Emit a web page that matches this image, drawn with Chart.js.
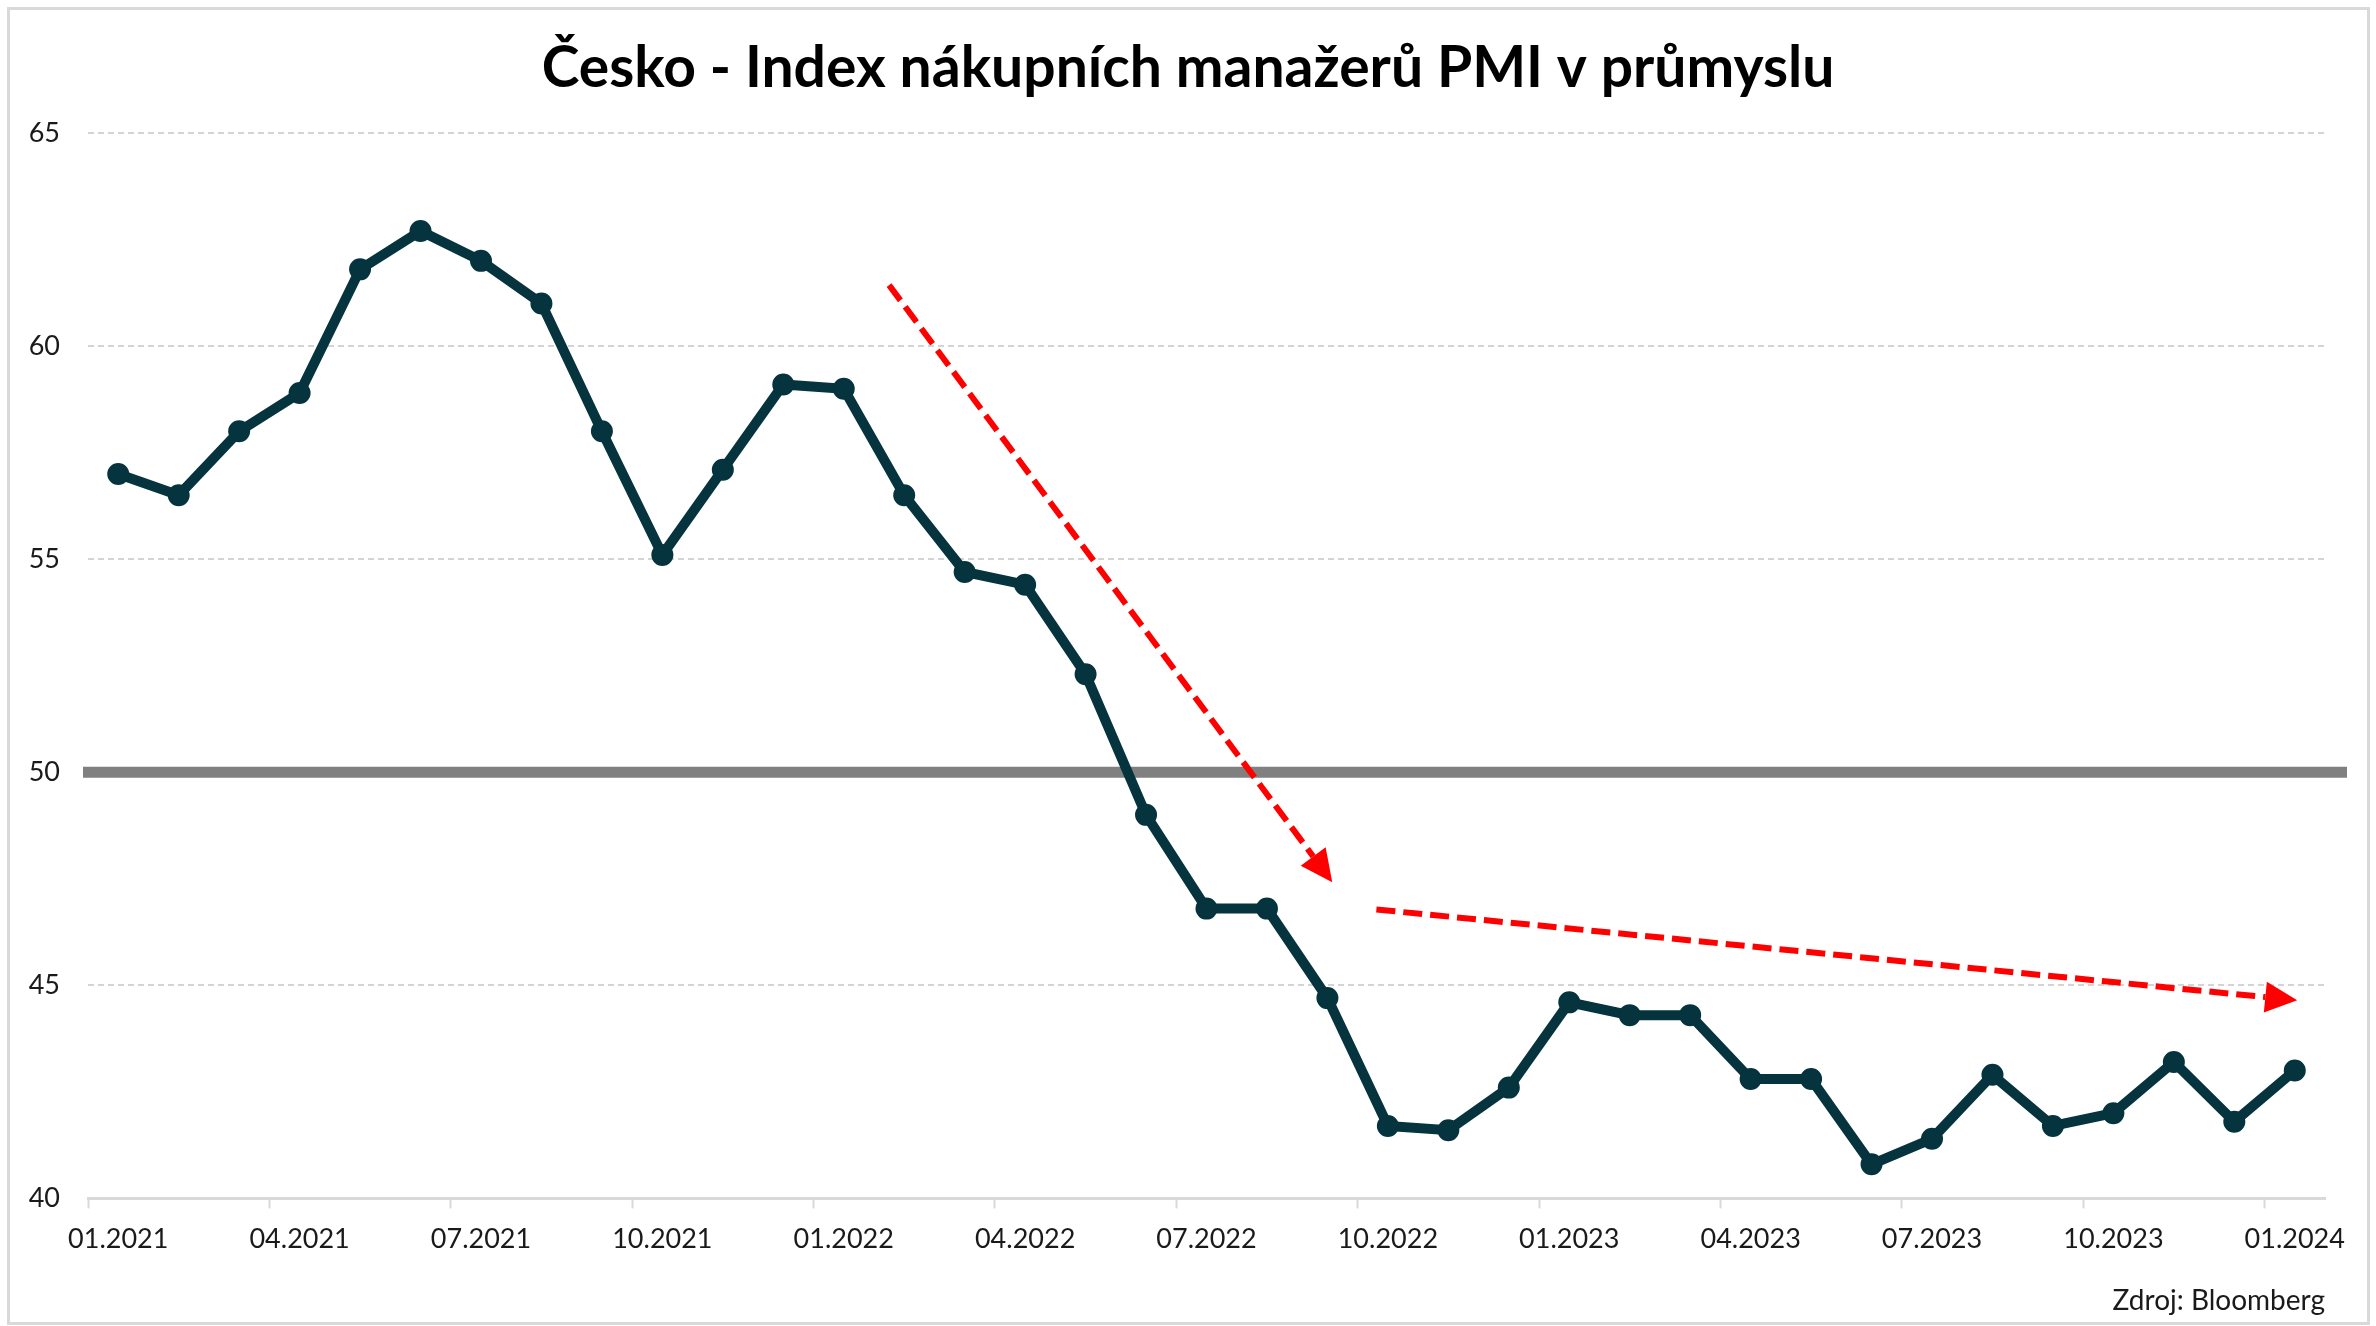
<!DOCTYPE html>
<html>
<head>
<meta charset="utf-8">
<script src="https://cdn.jsdelivr.net/npm/chart.js@4"></script>
<style>
html, body { margin: 0; padding: 0; background: #ffffff; }
#wrap { width: 2376px; height: 1326px; position: relative; }
</style>
</head>
<body>
<div id="wrap"><canvas id="c" width="2376" height="1326"></canvas></div>
<script>
// ---- Data ----
const categories = [
  '01.2021','02.2021','03.2021','04.2021','05.2021','06.2021','07.2021','08.2021','09.2021','10.2021','11.2021','12.2021',
  '01.2022','02.2022','03.2022','04.2022','05.2022','06.2022','07.2022','08.2022','09.2022','10.2022','11.2022','12.2022',
  '01.2023','02.2023','03.2023','04.2023','05.2023','06.2023','07.2023','08.2023','09.2023','10.2023','11.2023','12.2023',
  '01.2024'
];
const pmiValues = [
  57.0, 56.5, 58.0, 58.9, 61.8, 62.7, 62.0, 61.0, 58.0, 55.1, 57.1, 59.1,
  59.0, 56.5, 54.7, 54.4, 52.3, 49.0, 46.8, 46.8, 44.7, 41.7, 41.6, 42.6,
  44.6, 44.3, 44.3, 42.8, 42.8, 40.8, 41.4, 42.9, 41.7, 42.0, 43.2, 41.8,
  43.0
];
const yMin = 40;
const yMax = 65;
const yStep = 5;
const thresholdValue = 50;
// trend arrows in data units: [category index, value]
const arrowStarts = [[12.75, 61.43], [20.81, 46.78]];
const arrowEnds   = [[20.08, 47.42], [36.04, 44.65]];

const titleText = 'Česko - Index nákupních manažerů PMI v průmyslu';
const sourceText = 'Zdroj: Bloomberg';

// ---- Styles ----
const FONT = 'Lato';
const LINE_COLOR = '#05333E';
const TEXT_COLOR = '#1a1a1a';
const GRID_COLOR = '#d4d4d4';
const AXIS_COLOR = '#d9d9d9';
const RED = '#ff0000';

function drawArrow(ctx, x1, y1, x2, y2) {
  const ang = Math.atan2(y2 - y1, x2 - x1);
  const headLen = 32, headW = 31;
  const bx = x2 - headLen * Math.cos(ang);
  const by = y2 - headLen * Math.sin(ang);
  ctx.save();
  ctx.strokeStyle = RED;
  ctx.lineWidth = 6;
  ctx.setLineDash([19, 8]);
  ctx.lineCap = 'butt';
  ctx.beginPath();
  ctx.moveTo(x1, y1);
  ctx.lineTo(bx, by);
  ctx.stroke();
  ctx.setLineDash([]);
  ctx.fillStyle = RED;
  ctx.beginPath();
  ctx.moveTo(x2, y2);
  ctx.lineTo(bx + headW / 2 * Math.sin(ang), by - headW / 2 * Math.cos(ang));
  ctx.lineTo(bx - headW / 2 * Math.sin(ang), by + headW / 2 * Math.cos(ang));
  ctx.closePath();
  ctx.fill();
  ctx.restore();
}

const framePlugin = {
  id: 'frame',
  beforeDraw(chart) {
    const ctx = chart.ctx;
    ctx.save();
    ctx.fillStyle = '#ffffff';
    ctx.fillRect(0, 0, chart.width, chart.height);
    ctx.strokeStyle = AXIS_COLOR;
    ctx.lineWidth = 3;
    ctx.strokeRect(8.5, 8.5, 2360, 1315);
    ctx.restore();
  }
};

const thresholdPlugin = {
  id: 'threshold',
  beforeDatasetsDraw(chart) {
    const ctx = chart.ctx;
    const y = chart.scales.y.getPixelForValue(thresholdValue);
    const a = chart.chartArea;
    ctx.save();
    ctx.strokeStyle = '#808080';
    ctx.lineWidth = 11;
    ctx.beginPath();
    ctx.moveTo(a.left - 5, y);
    ctx.lineTo(a.right + 22, y);
    ctx.stroke();
    ctx.restore();
  }
};

const arrowsPlugin = {
  id: 'arrows',
  afterDatasetsDraw(chart) {
    const xs = chart.scales.x, ys = chart.scales.y;
    for (let i = 0; i < arrowStarts.length; i++) {
      const s = arrowStarts[i], e = arrowEnds[i];
      drawArrow(chart.ctx,
        xs.getPixelForValue(s[0]), ys.getPixelForValue(s[1]),
        xs.getPixelForValue(e[0]), ys.getPixelForValue(e[1]));
    }
  }
};

new Chart(document.getElementById('c'), {
  type: 'line',
  data: {
    labels: categories,
    datasets: [{
      label: 'PMI',
      data: pmiValues,
      borderColor: LINE_COLOR,
      backgroundColor: LINE_COLOR,
      borderWidth: 10,
      pointRadius: 10,
      pointBorderWidth: 2,
      pointBackgroundColor: LINE_COLOR,
      pointBorderColor: LINE_COLOR,
      tension: 0,
      fill: false,
      clip: false
    }]
  },
  options: {
    responsive: false,
    devicePixelRatio: 1,
    animation: false,
    layout: { padding: { top: 0, left: 0, right: 0, bottom: 8 } },
    plugins: {
      legend: { display: false },
      tooltip: { enabled: false },
      title: {
        display: true,
        text: titleText,
        color: '#000000',
        font: { family: FONT, size: 57, weight: 'bold' },
        padding: { top: 34, bottom: 30.6 }
      },
      subtitle: {
        display: true,
        text: sourceText,
        position: 'bottom',
        align: 'end',
        fullSize: false,
        color: TEXT_COLOR,
        font: { family: FONT, size: 28, weight: 'normal' },
        padding: { top: 0, bottom: 0 }
      }
    },
    scales: {
      x: {
        type: 'category',
        offset: true,
        grid: {
          offset: true,
          drawOnChartArea: false,
          drawTicks: true,
          tickLength: 10,
          tickWidth: 2,
          tickColor: (ctx) => (ctx.index !== undefined && ctx.index % 3 === 0) ? AXIS_COLOR : 'rgba(0,0,0,0)'
        },
        border: { display: true, color: AXIS_COLOR, width: 3 },
        ticks: {
          autoSkip: false,
          maxRotation: 0,
          minRotation: 0,
          padding: 15,
          color: TEXT_COLOR,
          font: { family: FONT, size: 27 },
          callback: (v, i) => (i % 3 === 0 ? categories[i] : '')
        },
        afterFit: (s) => { s.height = 86; }
      },
      y: {
        type: 'linear',
        position: 'left',
        min: yMin,
        max: yMax,
        ticks: {
          stepSize: yStep,
          padding: 28,
          color: TEXT_COLOR,
          font: { family: FONT, size: 27 }
        },
        grid: {
          color: (ctx) => (ctx.tick && ctx.tick.value === yMin) ? 'rgba(0,0,0,0)' : GRID_COLOR,
          lineWidth: 2,
          drawTicks: false
        },
        border: { display: false, dash: [6, 4] },
        afterFit: (s) => { s.width = 88; }
      },
      y2: {
        type: 'linear',
        position: 'right',
        display: true,
        grid: { display: false, drawTicks: false },
        ticks: { display: false },
        border: { display: false },
        afterFit: (s) => { s.width = 51; }
      }
    }
  },
  plugins: [framePlugin, thresholdPlugin, arrowsPlugin]
});
</script>
</body>
</html>
